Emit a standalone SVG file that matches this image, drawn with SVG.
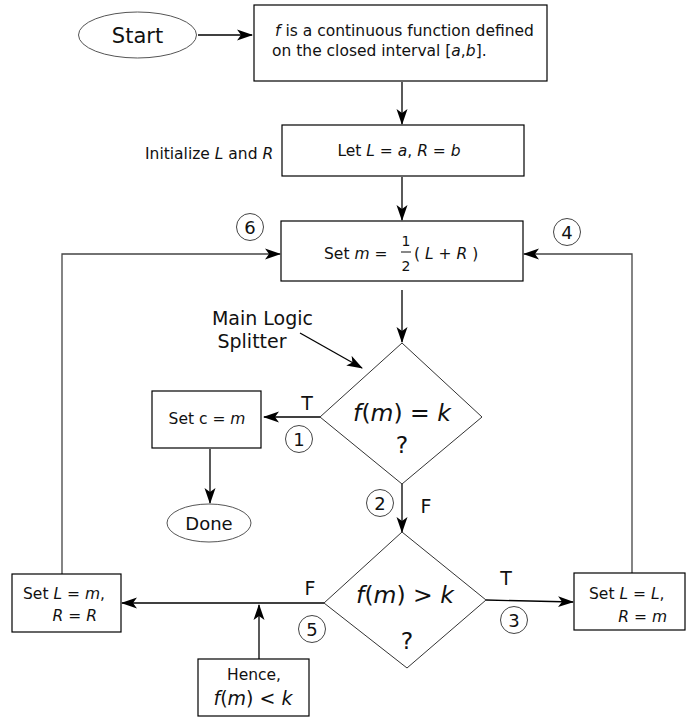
<svg xmlns="http://www.w3.org/2000/svg" width="686" height="719" viewBox="0 0 686 719">
<style>
.box{fill:#fff;stroke:#000;stroke-width:1.2}
.dia{fill:#fff;stroke:#333;stroke-width:1}
.ell{fill:#fff;stroke:#555;stroke-width:1}
.ln{fill:none;stroke:#000;stroke-width:1.3}
.loop{fill:none;stroke:#444;stroke-width:1.3}
.num{fill:#fff;stroke:#444;stroke-width:1}
text{font-family:"DejaVu Sans","Liberation Sans",sans-serif;fill:#111}
.t15{font-size:15.5px}
.t13{font-size:14px}
.i{font-style:italic}
</style>
<defs>
<marker id="ah" viewBox="0 -6 16 12" refX="15" refY="0" markerWidth="16" markerHeight="12" markerUnits="userSpaceOnUse" orient="auto">
<path d="M16,0 L0,-5.5 L4,0 L0,5.5 Z" fill="#000"/>
</marker>
</defs>
<g id="connectors">
<line class="ln" x1="198" y1="35" x2="252" y2="35" marker-end="url(#ah)"/>
<line class="ln" x1="402" y1="82" x2="402" y2="124" marker-end="url(#ah)"/>
<line class="ln" x1="402" y1="177" x2="402" y2="220" marker-end="url(#ah)"/>
<line class="ln" x1="402" y1="290" x2="402" y2="342" marker-end="url(#ah)"/>
<line class="ln" x1="300" y1="333" x2="362" y2="368" marker-end="url(#ah)"/>
<line class="ln" x1="320" y1="417" x2="264" y2="417" marker-end="url(#ah)"/>
<line class="ln" x1="210" y1="449" x2="210" y2="503" marker-end="url(#ah)"/>
<line class="ln" x1="402" y1="484" x2="402" y2="532" marker-end="url(#ah)"/>
<line class="ln" x1="486" y1="600" x2="573" y2="602" marker-end="url(#ah)"/>
<line class="ln" x1="324" y1="603" x2="122" y2="603" marker-end="url(#ah)"/>
<line class="ln" x1="259" y1="659" x2="259" y2="605" marker-end="url(#ah)"/>
<polyline class="loop" points="62,574 62,254 280,254" marker-end="url(#ah)"/>
<polyline class="loop" points="632,573 632,254 524,254" marker-end="url(#ah)"/>
</g>
<g id="start">
<ellipse class="ell" cx="137.5" cy="35" rx="59" ry="23"/>
<text x="137.5" y="42.5" text-anchor="middle" font-size="21">Start</text>
</g>
<g id="premise">
<rect class="box" x="254" y="5" width="293" height="76"/>
<text class="t15" x="275" y="36" font-size="15.8"><tspan class="i">f</tspan> is a continuous function defined</text>
<text class="t15" x="272" y="56">on the closed interval [<tspan class="i">a</tspan>,<tspan class="i">b</tspan>].</text>
</g>
<g id="init">
<text class="t15" x="145" y="159">Initialize <tspan class="i">L</tspan> and <tspan class="i">R</tspan></text>
<rect class="box" x="282" y="125" width="242" height="51"/>
<text class="t15" x="399" y="156" text-anchor="middle">Let <tspan class="i">L</tspan> = <tspan class="i">a</tspan>, <tspan class="i">R</tspan> = <tspan class="i">b</tspan></text>
</g>
<g id="setm">
<rect class="box" x="281" y="221" width="242" height="60"/>
<text class="t15" x="324" y="259">Set <tspan class="i">m</tspan> =</text>
<text class="t13" x="406" y="246" text-anchor="middle">1</text>
<line x1="401" y1="252" x2="411" y2="252" stroke="#111" stroke-width="1"/>
<text class="t13" x="406" y="271" text-anchor="middle">2</text>
<text class="t15" x="414" y="259">( <tspan class="i">L</tspan> + <tspan class="i">R</tspan> )</text>
</g>
<g id="label6">
<circle class="num" cx="250" cy="227" r="13.5"/>
<text x="250" y="234" text-anchor="middle" font-size="18">6</text>
</g>
<g id="label4">
<circle class="num" cx="567" cy="232" r="13.5"/>
<text x="567" y="239" text-anchor="middle" font-size="18">4</text>
</g>
<g id="splitterLabel">
<text x="262.5" y="325" text-anchor="middle" font-size="19">Main Logic</text>
<text x="252" y="348" text-anchor="middle" font-size="19">Splitter</text>
</g>
<g id="decision1">
<polygon class="dia" points="402,343 482,417 402,484 320,417"/>
<text x="402" y="421" text-anchor="middle" font-size="23.5"><tspan class="i">f</tspan>(<tspan class="i">m</tspan>) = <tspan class="i">k</tspan></text>
<text x="402" y="453" text-anchor="middle" font-size="23.5">?</text>
</g>
<g id="labelT1"><text x="307" y="410" text-anchor="middle" font-size="19">T</text></g>
<g id="label1">
<circle class="num" cx="299" cy="439" r="13.5"/>
<text x="299" y="446" text-anchor="middle" font-size="18">1</text>
</g>
<g id="setc">
<rect class="box" x="152" y="391" width="109" height="57"/>
<text class="t15" x="207" y="424" text-anchor="middle">Set c = <tspan class="i">m</tspan></text>
</g>
<g id="done">
<ellipse class="ell" cx="209" cy="523" rx="42" ry="19"/>
<text x="209" y="529.5" text-anchor="middle" font-size="18">Done</text>
</g>
<g id="label2">
<circle class="num" cx="380" cy="503" r="13.5"/>
<text x="380" y="510" text-anchor="middle" font-size="18">2</text>
</g>
<g id="labelF1"><text x="426" y="513" text-anchor="middle" font-size="19">F</text></g>
<g id="decision2">
<polygon class="dia" points="402,532 486,600 407,668 324,603"/>
<text x="405" y="603" text-anchor="middle" font-size="23.5"><tspan class="i">f</tspan>(<tspan class="i">m</tspan>) &gt; <tspan class="i">k</tspan></text>
<text x="407" y="649" text-anchor="middle" font-size="23.5">?</text>
</g>
<g id="labelT2"><text x="506" y="585" text-anchor="middle" font-size="19">T</text></g>
<g id="label3">
<circle class="num" cx="514" cy="620" r="13.5"/>
<text x="514" y="627" text-anchor="middle" font-size="18">3</text>
</g>
<g id="labelF2"><text x="310" y="595" text-anchor="middle" font-size="19">F</text></g>
<g id="label5">
<circle class="num" cx="312" cy="629" r="13.5"/>
<text x="312" y="636" text-anchor="middle" font-size="18">5</text>
</g>
<g id="setLL">
<rect class="box" x="574" y="573" width="111" height="57"/>
<text class="t15" x="589" y="599">Set <tspan class="i">L</tspan> = <tspan class="i">L</tspan>,</text>
<text class="t15" x="667" y="622" text-anchor="end"><tspan class="i">R</tspan> = <tspan class="i">m</tspan></text>
</g>
<g id="setLm">
<rect class="box" x="12" y="574" width="109" height="58"/>
<text class="t15" x="23" y="599">Set <tspan class="i">L</tspan> = <tspan class="i">m</tspan>,</text>
<text class="t15" x="97" y="621" text-anchor="end"><tspan class="i">R</tspan> = <tspan class="i">R</tspan></text>
</g>
<g id="hence">
<rect class="box" x="198" y="659" width="111" height="57"/>
<text class="t15" x="254" y="680" text-anchor="middle">Hence,</text>
<text x="253" y="705" text-anchor="middle" font-size="19"><tspan class="i">f</tspan>(<tspan class="i">m</tspan>) &lt; <tspan class="i">k</tspan></text>
</g>
</svg>
